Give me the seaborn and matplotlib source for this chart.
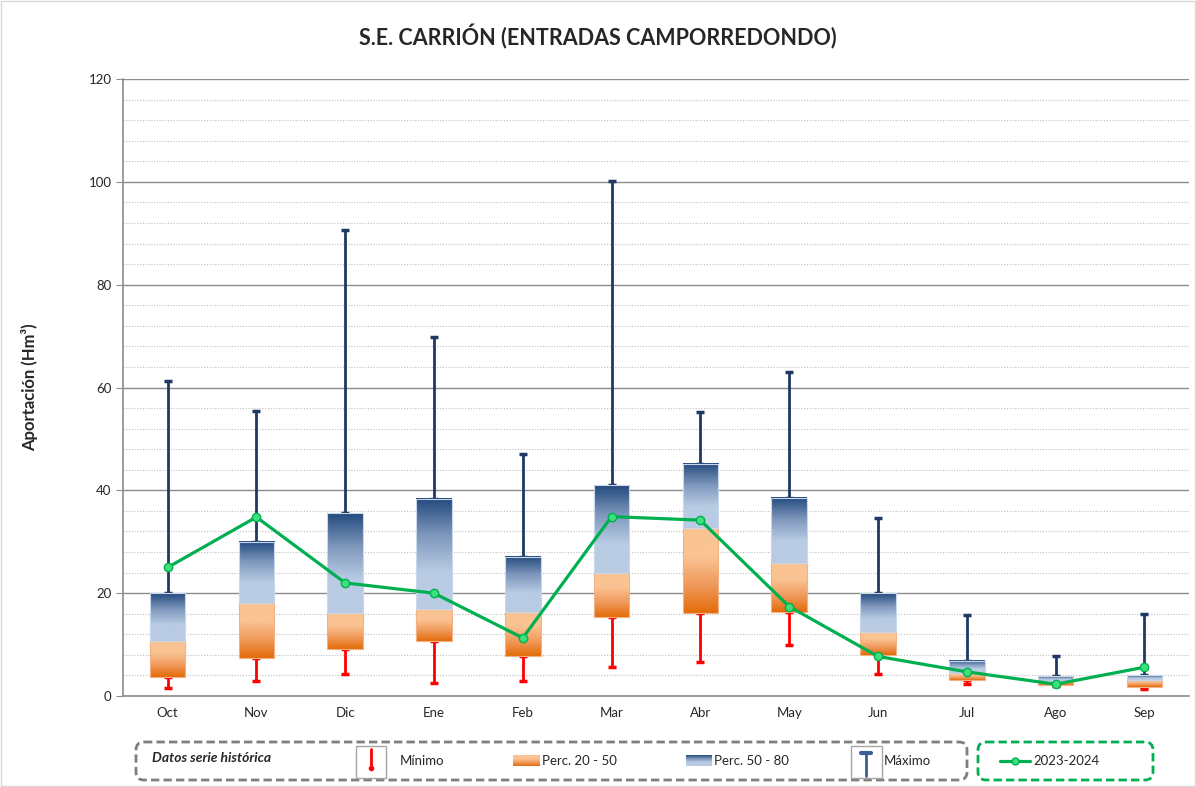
import numpy as np
import pandas as pd
import matplotlib
matplotlib.use("Agg")
import matplotlib.pyplot as plt
import seaborn as sns
from matplotlib.colors import LinearSegmentedColormap
from matplotlib.patches import FancyBboxPatch, Rectangle
from matplotlib.ticker import MultipleLocator

# data (Hm3)
meses = ["Oct", "Nov", "Dic", "Ene", "Feb", "Mar", "Abr", "May", "Jun", "Jul", "Ago", "Sep"]
minimo = [1.6, 3.0, 4.2, 2.6, 2.9, 5.7, 6.7, 10.0, 4.3, 2.3, 2.0, 1.4]
perc20 = [3.7, 7.3, 9.2, 10.7, 7.8, 15.3, 16.1, 16.4, 8.0, 3.1, 2.1, 1.8]
perc50 = [10.7, 18.0, 16.2, 16.9, 16.4, 24.0, 32.6, 25.9, 12.5, 4.4, 3.0, 3.2]
perc80 = [20.0, 30.0, 35.5, 38.3, 27.1, 41.0, 45.1, 38.6, 20.0, 6.9, 3.9, 4.1]
maximo = [61.3, 55.5, 90.7, 69.8, 47.0, 100.2, 55.2, 63.0, 34.7, 15.8, 7.7, 15.9]
actual = [25.0, 34.8, 22.0, 20.0, 11.3, 34.9, 34.2, 17.4, 7.7, 4.7, 2.3, 5.6]

df = pd.DataFrame({"mes": meses, "minimo": minimo, "p20": perc20, "p50": perc50,
                   "p80": perc80, "maximo": maximo, "actual": actual})
df["x"] = np.arange(len(df))

sns.set_style("white")
plt.rcParams["font.family"] = ["Lato", "DejaVu Sans"]

NAVY = "#1F3864"
ORANGE_DK = "#E36C09"
ORANGE_LT = "#FAC393"
BLUE_DK = "#234A7E"
BLUE_LT = "#B9CCE4"
GREEN = "#00B050"

cmap_or = LinearSegmentedColormap.from_list("or", [ORANGE_DK, "#F09A5C", ORANGE_LT, ORANGE_LT], N=256)
cmap_bl = LinearSegmentedColormap.from_list("bl", [BLUE_LT, BLUE_LT, "#7E97BC", BLUE_DK], N=256)
grad = np.linspace(0, 1, 256).reshape(-1, 1)

fig = plt.figure(figsize=(11.96, 7.87), dpi=100)
ax = fig.add_axes([0.103, 0.1156, 0.891, 0.784])

w = 0.4
# whiskers (under the boxes)
ax.errorbar(df["x"], df["p80"], yerr=[np.zeros(len(df)), df["maximo"] - df["p80"]],
            fmt="none", ecolor=NAVY, elinewidth=2, capsize=3, capthick=2.5, zorder=2)
ax.errorbar(df["x"], df["p20"], yerr=[df["p20"] - df["minimo"], np.zeros(len(df))],
            fmt="none", ecolor="#FF0000", elinewidth=2, capsize=3, capthick=2.5, zorder=2)

# gradient boxes
for _, r in df.iterrows():
    ax.imshow(grad, cmap=cmap_or, origin="lower", aspect="auto", zorder=3,
              extent=[r.x - w / 2, r.x + w / 2, r.p20, r.p50])
    ax.imshow(grad, cmap=cmap_bl, origin="lower", aspect="auto", zorder=3,
              extent=[r.x - w / 2, r.x + w / 2, r.p50, r.p80])
ax.bar(df["x"], df["p50"] - df["p20"], bottom=df["p20"], width=w, color="none",
       edgecolor="#F4B183", linewidth=0.8, zorder=3.1)
ax.bar(df["x"], df["p80"] - df["p50"], bottom=df["p50"], width=w, color="none",
       edgecolor="#C9D7EA", linewidth=0.8, zorder=3.1)

# current year
sns.lineplot(data=df, x="x", y="actual", ax=ax, color=GREEN, linewidth=2.3,
             marker="o", markersize=6, markerfacecolor="#3DE07A",
             markeredgecolor=GREEN, markeredgewidth=1, zorder=5, legend=False)

ax.set_xlim(-0.5, len(df) - 0.5)
ax.set_ylim(0, 120)
ax.yaxis.set_major_locator(MultipleLocator(20))
ax.yaxis.set_minor_locator(MultipleLocator(4))
ax.grid(which="major", axis="y", color="#8C8C8C", linewidth=1, zorder=0)
ax.grid(which="minor", axis="y", color="#BFBFBF", linestyle=(0, (1, 1.5)), linewidth=0.8, zorder=0)
ax.set_axisbelow(True)
ax.set_xticks(df["x"])
ax.set_xticklabels(meses)
ax.set_xticks(np.arange(-0.5, len(df)), minor=True)
ax.tick_params(axis="x", which="major", length=0, labelsize=9.5, pad=8)
ax.tick_params(axis="x", which="minor", length=6, color="#8C8C8C", width=1)
ax.tick_params(axis="y", which="major", length=5, color="#8C8C8C", labelsize=9.5, left=True)
ax.tick_params(axis="y", which="minor", length=0)
for s in ["top", "right"]:
    ax.spines[s].set_visible(False)
for s in ["left", "bottom"]:
    ax.spines[s].set_color("#8C8C8C")
    ax.spines[s].set_linewidth(1.2)
ax.set_xlabel("")
ax.set_ylabel("Aportación (Hm³)", fontsize=12, fontweight="bold", labelpad=36)

fig.text(0.5, 0.953, "S.E. CARRIÓN (ENTRADAS CAMPORREDONDO)", ha="center", va="center",
         fontsize=15.5, fontweight="bold")

# legend drawn in pixel coordinates
lg = fig.add_axes([0, 0, 1, 1], zorder=10)
lg.set_xlim(0, 1196)
lg.set_ylim(787, 0)
lg.set_axis_off()
lg.patch.set_alpha(0)
lg.add_patch(Rectangle((1, 1), 1194, 785, fill=False, ec="#D9D9D9", lw=1))
lg.add_patch(FancyBboxPatch((136, 742), 831, 38, boxstyle="round,pad=0,rounding_size=8",
                            fill=False, ec="#7F7F7F", lw=2, ls=(0, (3, 1.5))))
lg.add_patch(FancyBboxPatch((978, 742), 175, 38, boxstyle="round,pad=0,rounding_size=8",
                            fill=False, ec=GREEN, lw=2, ls=(0, (3, 1.5))))
lg.text(152, 758, "Datos serie histórica", fontsize=10, fontweight="bold", fontstyle="italic",
        va="center")
# Minimo icon
lg.add_patch(Rectangle((356, 746), 30, 32, fill=False, ec="#A6A6A6", lw=1))
lg.plot([371, 371], [749, 768], color="#FF0000", lw=2)
lg.plot([371], [768], marker="o", ms=3, color="#FF0000")
lg.text(400, 761, "Mínimo", fontsize=9.5, va="center")
# percentile patches
lg.imshow(grad, cmap=cmap_or, origin="lower", aspect="auto", extent=[513, 540, 766, 755])
lg.text(542, 761, "Perc. 20 - 50", fontsize=9.5, va="center")
lg.imshow(grad, cmap=cmap_bl, origin="lower", aspect="auto", extent=[686, 712, 766, 755])
lg.text(714, 761, "Perc. 50 - 80", fontsize=9.5, va="center")
# Maximo icon
lg.add_patch(Rectangle((851, 746), 31, 32, fill=False, ec="#A6A6A6", lw=1))
lg.plot([866, 866], [752, 776], color="#3A5F93", lw=2)
lg.plot([861, 871], [753, 753], color="#3A5F93", lw=3)
lg.text(884, 761, "Máximo", fontsize=9.5, va="center")
# current year
lg.plot([1000, 1030], [761, 761], color=GREEN, lw=2.3)
lg.plot([1015], [761], marker="o", ms=5, markerfacecolor="#3DE07A", markeredgecolor=GREEN)
lg.text(1033, 761, "2023-2024", fontsize=9.5, va="center")
lg.set_xlim(0, 1196)
lg.set_ylim(787, 0)

fig.savefig("out.png", dpi=100)
